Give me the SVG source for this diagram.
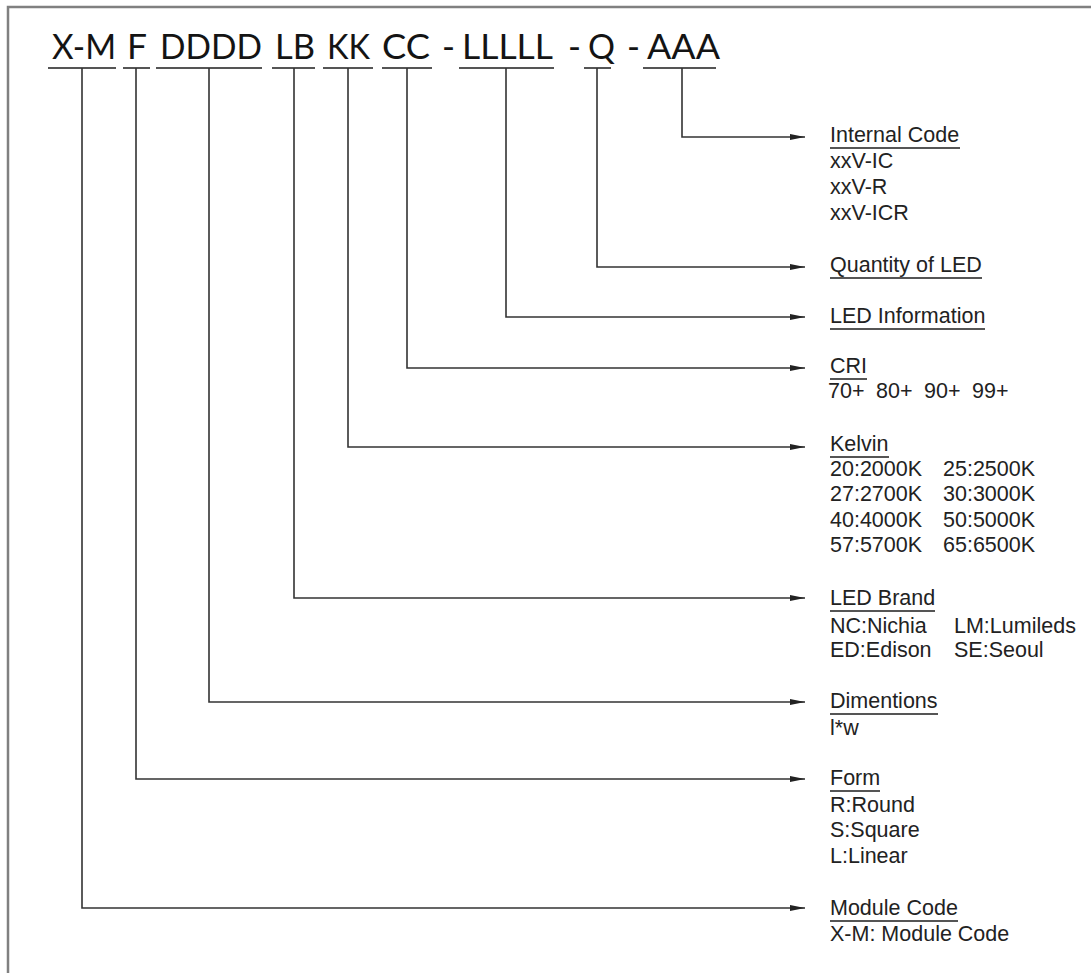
<svg xmlns="http://www.w3.org/2000/svg" width="1091" height="973" viewBox="0 0 1091 973">
<style>
.hdr{font-family:Lato,"Liberation Sans",sans-serif;font-size:35px;font-weight:400;fill:#141414;}
.ul{stroke:#555;stroke-width:2;}
.lbl{font-family:"Liberation Sans",Arial,sans-serif;font-size:21.5px;fill:#222;}
.conn{fill:none;stroke:#333;stroke-width:1.6;}
</style>
<defs>
<marker id="arr" markerUnits="userSpaceOnUse" markerWidth="16" markerHeight="8" refX="15" refY="3.5" orient="auto">
<path d="M0,0.5 L15,3.5 L0,6.5 z" fill="#222"/>
</marker>
</defs>
<rect width="1091" height="973" fill="#fff"/>
<rect x="8" y="7" width="1110" height="1000" fill="none" stroke="#808080" stroke-width="2.5"/>

<g id="code-header">
<text class="hdr" x="52" y="59" textLength="64" lengthAdjust="spacingAndGlyphs">X-M</text>
<text class="hdr" x="127" y="59" textLength="20" lengthAdjust="spacingAndGlyphs">F</text>
<text class="hdr" x="160" y="59" textLength="102" lengthAdjust="spacingAndGlyphs">DDDD</text>
<text class="hdr" x="275" y="59" textLength="40" lengthAdjust="spacingAndGlyphs">LB</text>
<text class="hdr" x="327" y="59" textLength="43" lengthAdjust="spacingAndGlyphs">KK</text>
<text class="hdr" x="382" y="59" textLength="48" lengthAdjust="spacingAndGlyphs">CC</text>
<text class="hdr" x="442" y="59">-</text>
<text class="hdr" x="462" y="59" textLength="91" lengthAdjust="spacingAndGlyphs">LLLLL</text>
<text class="hdr" x="568" y="59">-</text>
<text class="hdr" x="588" y="59" textLength="27" lengthAdjust="spacingAndGlyphs">Q</text>
<text class="hdr" x="627" y="59">-</text>
<text class="hdr" x="647" y="59" textLength="73" lengthAdjust="spacingAndGlyphs">AAA</text>
<line class="ul" x1="48" y1="68" x2="116" y2="68"/>
<line class="ul" x1="123" y1="68" x2="150" y2="68"/>
<line class="ul" x1="156" y1="68" x2="262" y2="68"/>
<line class="ul" x1="272" y1="68" x2="315" y2="68"/>
<line class="ul" x1="323" y1="68" x2="373" y2="68"/>
<line class="ul" x1="382" y1="68" x2="432" y2="68"/>
<line class="ul" x1="459" y1="68" x2="554" y2="68"/>
<line class="ul" x1="584" y1="68" x2="611" y2="68"/>
<line class="ul" x1="643" y1="68" x2="716" y2="68"/>
</g>

<g id="connectors">
<path class="conn" d="M682,68 V137 H805" marker-end="url(#arr)"/>
<path class="conn" d="M597,68 V267 H805" marker-end="url(#arr)"/>
<path class="conn" d="M506,68 V317 H805" marker-end="url(#arr)"/>
<path class="conn" d="M407,68 V368 H805" marker-end="url(#arr)"/>
<path class="conn" d="M348,68 V447 H805" marker-end="url(#arr)"/>
<path class="conn" d="M294,68 V598 H805" marker-end="url(#arr)"/>
<path class="conn" d="M209,68 V702 H805" marker-end="url(#arr)"/>
<path class="conn" d="M136,68 V779 H805" marker-end="url(#arr)"/>
<path class="conn" d="M82,68 V908 H805" marker-end="url(#arr)"/>
</g>

<g id="internal-code">
<text class="lbl" x="830" y="142">Internal Code</text>
<line class="ul" x1="830" y1="148" x2="960" y2="148"/>
<text class="lbl" x="830" y="168">xxV-IC</text>
<text class="lbl" x="830" y="194">xxV-R</text>
<text class="lbl" x="830" y="220">xxV-ICR</text>
</g>

<g id="quantity">
<text class="lbl" x="830" y="272">Quantity of LED</text>
<line class="ul" x1="830" y1="278" x2="982" y2="278"/>
</g>

<g id="led-info">
<text class="lbl" x="830" y="323">LED Information</text>
<line class="ul" x1="830" y1="329" x2="985" y2="329"/>
</g>

<g id="cri">
<text class="lbl" x="830" y="373">CRI</text>
<line class="ul" x1="830" y1="379" x2="867" y2="379"/>
<text class="lbl" x="828" y="398">70+</text>
<text class="lbl" x="876" y="398">80+</text>
<text class="lbl" x="924" y="398">90+</text>
<text class="lbl" x="972" y="398">99+</text>
</g>

<g id="kelvin">
<text class="lbl" x="830" y="451">Kelvin</text>
<line class="ul" x1="830" y1="457" x2="889" y2="457"/>
<text class="lbl" x="830" y="476">20:2000K</text>
<text class="lbl" x="943" y="476">25:2500K</text>
<text class="lbl" x="830" y="501">27:2700K</text>
<text class="lbl" x="943" y="501">30:3000K</text>
<text class="lbl" x="830" y="527">40:4000K</text>
<text class="lbl" x="943" y="527">50:5000K</text>
<text class="lbl" x="830" y="552">57:5700K</text>
<text class="lbl" x="943" y="552">65:6500K</text>
</g>

<g id="led-brand">
<text class="lbl" x="830" y="605">LED Brand</text>
<line class="ul" x1="830" y1="611" x2="935" y2="611"/>
<text class="lbl" x="830" y="633">NC:Nichia</text>
<text class="lbl" x="954" y="633">LM:Lumileds</text>
<text class="lbl" x="830" y="657">ED:Edison</text>
<text class="lbl" x="954" y="657">SE:Seoul</text>
</g>

<g id="dimentions">
<text class="lbl" x="830" y="708">Dimentions</text>
<line class="ul" x1="830" y1="714" x2="938" y2="714"/>
<text class="lbl" x="830" y="735">l*w</text>
</g>

<g id="form">
<text class="lbl" x="830" y="785">Form</text>
<line class="ul" x1="830" y1="791" x2="880" y2="791"/>
<text class="lbl" x="830" y="812">R:Round</text>
<text class="lbl" x="830" y="837">S:Square</text>
<text class="lbl" x="830" y="863">L:Linear</text>
</g>

<g id="module-code">
<text class="lbl" x="830" y="915">Module Code</text>
<line class="ul" x1="830" y1="921" x2="958" y2="921"/>
<text class="lbl" x="830" y="941">X-M: Module Code</text>
</g>
</svg>
